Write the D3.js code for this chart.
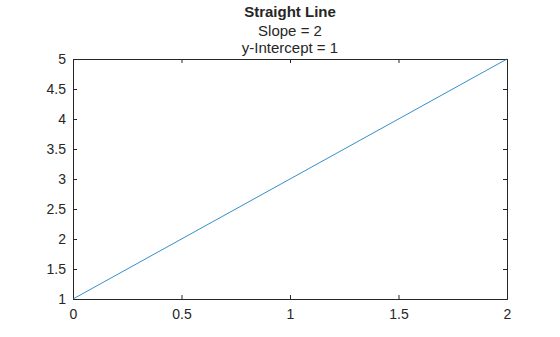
<!DOCTYPE html>
<html>
<head>
<meta charset="utf-8">
<script src="https://cdn.jsdelivr.net/npm/d3@7"></script>
<style>
  body { margin: 0; background: #fff; }
  text { font-family: "Liberation Sans", Arial, sans-serif; fill: #262626; }
</style>
</head>
<body>
<div id="chart"></div>
<script>
// line endpoints y = 2x + 1
var xValues = [0, 2]
var yValues = [1, 5]
var xTicks = [0, 0.5, 1, 1.5, 2]
var yTicks = [1, 1.5, 2, 2.5, 3, 3.5, 4, 4.5, 5]
var titleLines = ["Straight Line", "Slope = 2", "y-Intercept = 1"]

var width = 560, height = 337
var margin = {top: 59, right: 53, bottom: 38, left: 73}
var w = width - margin.left - margin.right
var h = height - margin.top - margin.bottom

var svg = d3.select("#chart").append("svg")
  .attr("width", width)
  .attr("height", height)

var g = svg.append("g").attr("transform", `translate(${margin.left},${margin.top})`)

var x = d3.scaleLinear().domain([0, 2]).range([0, w])
var y = d3.scaleLinear().domain([1, 5]).range([h, 0])

// axes, ticks pointing inward, box on
g.append("g").attr("transform", `translate(0,${h})`)
  .call(d3.axisBottom(x).tickValues(xTicks).tickSize(-4).tickPadding(10).tickFormat(d3.format("")))
g.append("g")
  .call(d3.axisTop(x).tickValues(xTicks).tickSize(-4).tickFormat(""))
g.append("g")
  .call(d3.axisLeft(y).tickValues(yTicks).tickSize(-4).tickPadding(7).tickFormat(d3.format("")))
g.append("g").attr("transform", `translate(${w},0)`)
  .call(d3.axisRight(y).tickValues(yTicks).tickSize(-4).tickFormat(""))

g.selectAll(".domain").attr("stroke", "#262626").attr("stroke-width", 1)
g.selectAll(".tick line").attr("stroke", "#262626")
g.selectAll(".tick text").style("font-size", "14px").attr("fill", "#262626")

// data line
g.append("path")
  .datum(xValues.map((d, i) => [d, yValues[i]]))
  .attr("fill", "none")
  .attr("stroke", "#0072BD")
  .attr("stroke-width", 0.8)
  .attr("d", d3.line().x(d => x(d[0])).y(d => y(d[1])))

// title
var cx = margin.left + w / 2
svg.append("text").attr("x", cx).attr("y", 17).attr("text-anchor", "middle")
  .style("font-size", "15px").style("font-weight", "bold").text(titleLines[0])
svg.append("text").attr("x", cx).attr("y", 36).attr("text-anchor", "middle")
  .style("font-size", "15px").text(titleLines[1])
svg.append("text").attr("x", cx).attr("y", 53).attr("text-anchor", "middle")
  .style("font-size", "15px").text(titleLines[2])
</script>
</body>
</html>
